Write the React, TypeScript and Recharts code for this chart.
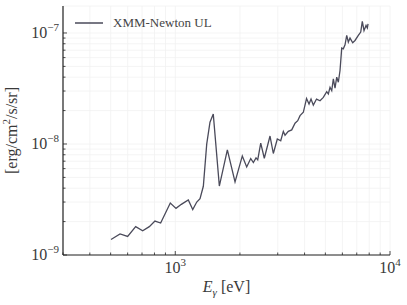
import React from "react";
import { LineChart, Line, XAxis, YAxis, CartesianGrid, Legend } from "recharts";

// XMM-Newton upper limit (eV, erg/cm^2/s/sr)
const energies = [
  502, 553, 600, 654, 705, 757, 804, 855, 948, 1008, 1067, 1150, 1206, 1259, 1304,
  1351, 1401, 1451, 1503, 1604, 1748, 1898, 2052, 2151, 2246, 2310, 2377, 2421, 2500,
  2598, 2762, 2862, 2987, 3098, 3186, 3244, 3361, 3486, 3612, 3718, 3811, 3948, 4086,
  4197, 4288, 4395, 4548, 4722, 4892, 5074, 5162, 5257, 5354, 5447, 5546, 5648, 5746,
  5851, 5959, 6061, 6174, 6287, 6396, 6513, 6705, 6872, 7120, 7306, 7431, 7568, 7734,
  7842, 7902,
];
const fluxUL = [
  1.38e-9, 1.55e-9, 1.47e-9, 1.8e-9, 1.65e-9, 1.8e-9, 2.02e-9, 1.94e-9, 2.94e-9, 2.63e-9,
  2.86e-9, 3.13e-9, 2.57e-9, 3.0e-9, 3.22e-9, 4.16e-9, 9.97e-9, 1.57e-8, 1.86e-8, 4.18e-9,
  8.85e-9, 4.55e-9, 7.81e-9, 6.21e-9, 7.4e-9, 6.81e-9, 7.49e-9, 7.19e-9, 1.02e-8, 7.44e-9,
  1.18e-8, 8.21e-9, 1.11e-8, 1.07e-8, 1.3e-8, 1.2e-8, 1.3e-8, 1.34e-8, 1.54e-8, 1.62e-8,
  1.8e-8, 1.93e-8, 2.57e-8, 2.29e-8, 2.54e-8, 2.24e-8, 2.54e-8, 2.45e-8, 2.63e-8, 2.96e-8,
  2.82e-8, 3.24e-8, 3.02e-8, 3.86e-8, 3.18e-8, 4.0e-8, 3.6e-8, 4.59e-8, 7.31e-8, 7.2e-8,
  7.83e-8, 9.5e-8, 8.28e-8, 9.0e-8, 8.16e-8, 8.56e-8, 9.5e-8, 1.02e-7, 1.27e-7, 1.05e-7,
  1.17e-7, 1.11e-7, 1.21e-7,
];

// log ticks (majors get a 10^n label, the rest are minor)
const xTicks = [
  300, 400, 500, 600, 700, 800, 900, 1000, 2000, 3000, 4000, 5000, 6000, 7000, 8000, 9000, 10000,
];
const yTicks = [
  1e-9, 2e-9, 3e-9, 4e-9, 5e-9, 6e-9, 7e-9, 8e-9, 9e-9, 1e-8, 2e-8, 3e-8, 4e-8, 5e-8, 6e-8,
  7e-8, 8e-8, 9e-8, 1e-7,
];

const chartData = energies.map((e, i) => ({ e, f: fluxUL[i] }));

const FONT = "'Liberation Serif', 'DejaVu Serif', serif";
const TEXT = "#3a3a3a";
const FRAME = "#222";
const LINE = "#4a4a5a";

const isMajor = (v: number) => Math.abs(Math.log10(v) - Math.round(Math.log10(v))) < 1e-6;

const LogTick = (props: any) => {
  const { x, y, payload, side } = props;
  const v = payload.value;
  const major = isMajor(v);
  const len = major ? 4 : 2.5;
  const exp = Math.round(Math.log10(v));
  const expText = exp < 0 ? `\u2212${-exp}` : `${exp}`;
  let tick;
  if (side === "bottom") tick = <line x1={x} y1={y} x2={x} y2={y - len} stroke={FRAME} strokeWidth={0.8} />;
  else if (side === "top") tick = <line x1={x} y1={y} x2={x} y2={y + len} stroke={FRAME} strokeWidth={0.8} />;
  else if (side === "left") tick = <line x1={x} y1={y} x2={x + len} y2={y} stroke={FRAME} strokeWidth={0.8} />;
  else tick = <line x1={x} y1={y} x2={x - len} y2={y} stroke={FRAME} strokeWidth={0.8} />;
  return (
    <g>
      {tick}
      {major && side === "bottom" && (
        <text x={x} y={y + 18} textAnchor="middle" fontFamily={FONT} fontSize={16} fill={TEXT}>
          10<tspan dy={-7} fontSize={11}>{expText}</tspan>
        </text>
      )}
      {major && side === "left" && (
        <text x={x - 4} y={y + 5} textAnchor="end" fontFamily={FONT} fontSize={16} fill={TEXT}>
          10<tspan dy={-7} fontSize={11}>{expText}</tspan>
        </text>
      )}
    </g>
  );
};

const XLabel = (props: any) => {
  const { x, y, width } = props.viewBox;
  return (
    <text x={x + width / 2} y={y + 37} textAnchor="middle" fontFamily={FONT} fontSize={16} fill={TEXT}>
      <tspan fontStyle="italic">E</tspan>
      <tspan dy={4} fontSize={11} fontStyle="italic">γ</tspan>
      <tspan dy={-4}> [eV]</tspan>
    </text>
  );
};

const YLabel = (props: any) => {
  const { x, y, height } = props.viewBox;
  const cx = x + 17;
  const cy = y + height / 2;
  return (
    <text
      x={cx}
      y={cy}
      transform={`rotate(-90 ${cx} ${cy})`}
      textAnchor="middle"
      fontFamily={FONT}
      fontSize={16}
      fill={TEXT}
    >
      [erg/cm<tspan dy={-7} fontSize={11}>2</tspan>
      <tspan dy={7}>/s/sr]</tspan>
    </text>
  );
};

const LegendBox = () => (
  <div style={{ display: "flex", alignItems: "center", fontFamily: FONT, fontSize: 13, color: "#444", lineHeight: "16px" }}>
    <svg width={28} height={4} style={{ display: "block" }}>
      <line x1={0} y1={2} x2={28} y2={2} stroke={LINE} strokeWidth={1.5} />
    </svg>
    <span style={{ marginLeft: 10, whiteSpace: "nowrap" }}>XMM-Newton UL</span>
  </div>
);

export default function App() {
  return (
    <div style={{ position: "absolute", left: 0, top: 0, background: "#fff" }}>
      <LineChart width={407} height={305} data={chartData} margin={{ top: 6, right: 17, bottom: 0, left: 0 }}>
        <CartesianGrid stroke="#f1f1f1" strokeWidth={0.8} />
        <XAxis
          dataKey="e"
          type="number"
          scale="log"
          domain={[300, 10000]}
          allowDataOverflow
          ticks={xTicks}
          interval={0}
          tickSize={0}
          tickMargin={0}
          tickLine={false}
          axisLine={{ stroke: FRAME, strokeWidth: 1.2 }}
          height={50}
          tick={<LogTick side="bottom" />}
          label={<XLabel />}
        />
        <XAxis
          xAxisId="top"
          orientation="top"
          dataKey="e"
          type="number"
          scale="log"
          domain={[300, 10000]}
          allowDataOverflow
          ticks={xTicks}
          interval={0}
          tickSize={0}
          tickMargin={0}
          tickLine={false}
          axisLine={{ stroke: FRAME, strokeWidth: 1.2 }}
          height={0}
          tick={<LogTick side="top" />}
        />
        <YAxis
          type="number"
          scale="log"
          domain={[1e-9, 1.75e-7]}
          allowDataOverflow
          ticks={yTicks}
          interval={0}
          tickSize={0}
          tickMargin={0}
          tickLine={false}
          axisLine={{ stroke: FRAME, strokeWidth: 1.2 }}
          width={63}
          tick={<LogTick side="left" />}
          label={<YLabel />}
        />
        <YAxis
          yAxisId="right"
          orientation="right"
          type="number"
          scale="log"
          domain={[1e-9, 1.75e-7]}
          allowDataOverflow
          ticks={yTicks}
          interval={0}
          tickSize={0}
          tickMargin={0}
          tickLine={false}
          axisLine={{ stroke: FRAME, strokeWidth: 1.2 }}
          width={0}
          tick={<LogTick side="right" />}
        />
        <Legend
          layout="vertical"
          align="center"
          verticalAlign="middle"
          content={<LegendBox />}
          wrapperStyle={{ left: 75, top: 15, width: "auto", height: "auto" }}
        />
        <Line
          dataKey="f"
          type="linear"
          stroke={LINE}
          strokeWidth={1.3}
          dot={false}
          isAnimationActive={false}
        />
      </LineChart>
    </div>
  );
}
